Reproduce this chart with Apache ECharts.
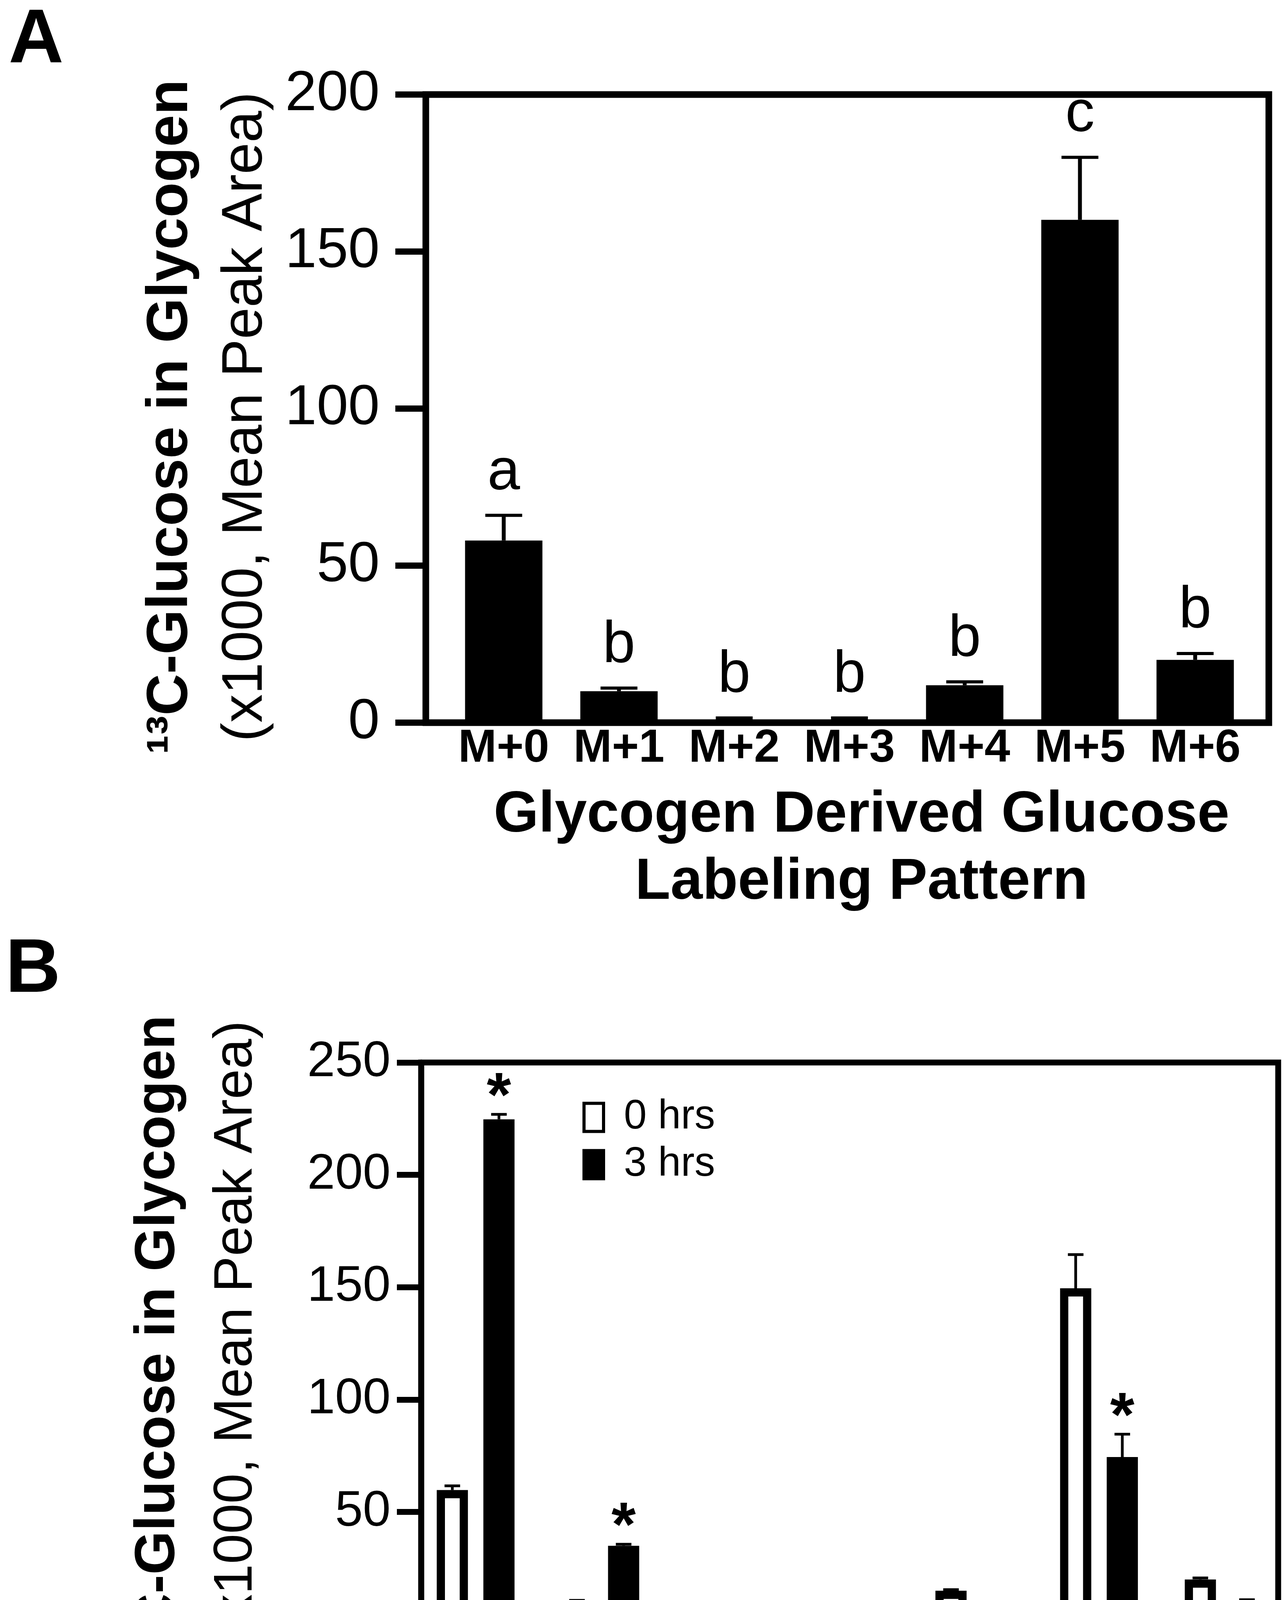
<!DOCTYPE html>
<html>
<head>
<meta charset="utf-8">
<script src="https://cdn.jsdelivr.net/npm/echarts@6/dist/echarts.min.js"></script>
<style>
  html, body { margin: 0; padding: 0; background: #fff; }
  #chart { width: 3292px; height: 4651px; }
</style>
</head>
<body>
<div id="chart"></div>
<script>
const categories = ['M+0', 'M+1', 'M+2', 'M+3', 'M+4', 'M+5', 'M+6'];

// panel A: mean and mean + SEM (x1000 peak area)
const meanA = [58.0, 10.0, 0.8, 0.8, 11.9, 160.1, 20.0];
const errTopA = [66.0, 11.0, 1.5, 1.5, 13.0, 180.0, 22.0];
const lettersA = ['a', 'b', 'b', 'b', 'b', 'c', 'b'];
const yTicksA = [0, 50, 100, 150, 200];

// panel B: 0 hrs vs 3 hrs
const mean0h = [59.7, 9.9, 0.5, 0, 14.9, 149.5, 19.9];
const errTop0h = [61.6, 10.6, 1.5, 0, 15.4, 164.5, 20.6];
const mean3h = [224.7, 34.9, 7.8, 0, 6.8, 74.4, 9.9];
const errTop3h = [226.9, 35.6, 8.3, 0, 7.6, 84.6, 10.9];
const starsB = ['*', '*', '', '', '', '*', ''];
const yTicksB = [0, 50, 100, 150, 200, 250];

const FONT = '"Liberation Sans", Arial, Helvetica, sans-serif';
const yTitle = '{b|\u00b9\u00b3C-Glucose in Glycogen}\n{r|(x1000, Mean Peak Area)}';
const xTitle = 'Glycogen Derived Glucose\nLabeling Pattern';

// grouped bars in panel B, as fractions of the category band
const B_SHIFT = 0.187;
const B_WIDTH = 0.25;

function barItemB(side, hollow) {
  return function (params, api) {
    const i = api.value(0), v = api.value(1);
    if (!(v > 0)) return;
    const band = api.size([1, 0])[0];
    const base = api.coord([i, 0]);
    const top = api.coord([i, v]);
    const w = band * B_WIDTH;
    const x = base[0] + side * band * B_SHIFT - w / 2;
    const children = [{
      type: 'rect',
      shape: { x: x, y: top[1], width: w, height: base[1] - top[1] },
      style: { fill: '#000' }
    }];
    if (hollow) {
      const t = 21;
      const innerH = base[1] - 8 - (top[1] + t);
      if (w > 2 * t && innerH > 0) {
        children.push({
          type: 'rect',
          shape: { x: x + t, y: top[1] + t, width: w - 2 * t, height: innerH },
          style: { fill: '#fff' }
        });
      }
    }
    return { type: 'group', children: children };
  };
}

// upper whisker only, with a cap
function errItem(shift, capW, stemW, capT) {
  return function (params, api) {
    const i = api.value(0), m = api.value(1), e = api.value(2);
    if (!(e > m)) return;
    const band = api.size([1, 0])[0];
    const p0 = api.coord([i, m]);
    const p1 = api.coord([i, e]);
    const cx = p0[0] + shift * band;
    const cw = capW * band;
    return {
      type: 'group',
      children: [
        { type: 'line', shape: { x1: cx, y1: p0[1], x2: cx, y2: p1[1] }, style: { stroke: '#000', lineWidth: stemW } },
        { type: 'line', shape: { x1: cx - cw / 2, y1: p1[1], x2: cx + cw / 2, y2: p1[1] }, style: { stroke: '#000', lineWidth: capT } }
      ]
    };
  };
}

// text marks (letters / asterisks) above the error caps
function noteItem(texts, shift, gap, fontSize, fontWeight) {
  return function (params, api) {
    const i = api.value(0);
    const s = texts[i];
    if (!s) return;
    const band = api.size([1, 0])[0];
    const p = api.coord([i, api.value(1)]);
    return {
      type: 'text',
      x: p[0] + shift * band,
      y: p[1] - gap,
      style: {
        text: s, fill: '#000', fontFamily: FONT, fontSize: fontSize, fontWeight: fontWeight,
        align: 'center', verticalAlign: 'bottom'
      }
    };
  };
}

function frameY(ticks, lw, tickLen, fontSize, margin, nameGap, lineH, namePad, bSize, rSize, rPad) {
  return {
    type: 'value',
    min: ticks[0],
    max: ticks[ticks.length - 1],
    interval: ticks[1] - ticks[0],
    axisLine: { show: true, lineStyle: { color: '#000', width: lw } },
    axisTick: { show: true, inside: false, length: tickLen, lineStyle: { color: '#000', width: lw } },
    splitLine: { show: false },
    axisLabel: { fontFamily: FONT, fontSize: fontSize, color: '#000', margin: margin },
    name: yTitle,
    nameLocation: 'middle',
    nameGap: nameGap,
    nameTextStyle: {
      padding: namePad,
      rich: {
        b: { fontFamily: FONT, fontSize: bSize, fontWeight: 'bold', color: '#000', lineHeight: lineH },
        r: { fontFamily: FONT, fontSize: rSize, color: '#000', lineHeight: lineH, padding: rPad }
      }
    }
  };
}

function hiddenY(ticks) {
  return { type: 'value', min: ticks[0], max: ticks[ticks.length - 1], show: false };
}

function catX(gridIndex, fontSize, margin, nameGap, lineH, namePad) {
  return {
    type: 'category',
    gridIndex: gridIndex,
    data: categories,
    axisLine: { show: false },
    axisTick: { show: false },
    axisLabel: { fontFamily: FONT, fontSize: fontSize, fontWeight: 'bold', color: '#000', margin: margin, interval: 0 },
    name: xTitle,
    nameLocation: 'middle',
    nameGap: nameGap,
    nameTextStyle: { fontFamily: FONT, fontSize: 148, fontWeight: 'bold', color: '#000', lineHeight: lineH, padding: namePad }
  };
}

const chart = echarts.init(document.getElementById('chart'), null, { renderer: 'canvas' });

const option = {
  animation: false,
  backgroundColor: '#fff',
  title: [
    { text: 'A', left: 22, top: 8, padding: 0, textStyle: { fontFamily: FONT, fontSize: 195, fontWeight: 'bold', color: '#000' } },
    { text: 'B', left: 14, top: 2388, padding: 0, textStyle: { fontFamily: FONT, fontSize: 195, fontWeight: 'bold', color: '#000' } }
  ],
  legend: {
    orient: 'vertical',
    left: 1486,
    top: 2803,
    itemWidth: 50,
    itemHeight: 72,
    itemGap: 16,
    selectedMode: false,
    textStyle: { fontFamily: FONT, fontSize: 105, color: '#000', padding: [0, 0, 0, 47] },
    data: [
      { name: '0 hrs', icon: 'rect', itemStyle: { color: '#fff', borderColor: '#000', borderWidth: 8 } },
      { name: '3 hrs', icon: 'rect', itemStyle: { color: '#000', borderColor: '#000', borderWidth: 8 } }
    ]
  },
  grid: [
    // A frame, A bars, B frame, B bars
    { left: 1090, top: 242, width: 2158, height: 1608, show: true, borderColor: '#000', borderWidth: 17, backgroundColor: 'transparent' },
    { left: 1142, top: 242, width: 2065, height: 1608 },
    { left: 1078, top: 2720, width: 2194, height: 1438, show: true, borderColor: '#000', borderWidth: 15, backgroundColor: 'transparent' },
    { left: 1058, top: 2720, width: 2245, height: 1438 }
  ],
  xAxis: [
    { type: 'value', gridIndex: 0, min: 0, max: 1, show: false },
    catX(1, 118, 8, 152, 172, [0, 0, 0, 62]),
    { type: 'value', gridIndex: 2, min: 0, max: 1, show: false },
    catX(3, 118, 6, 148, 160, [0, 58, 0, 0])
  ],
  yAxis: [
    Object.assign(frameY(yTicksA, 16, 78, 145, 118, 365, 191, [0, 42, 0, 0], 148, 146, 0), { gridIndex: 0 }),
    Object.assign(hiddenY(yTicksA), { gridIndex: 1 }),
    Object.assign(frameY(yTicksB, 15, 62, 128, 78, 373, 199, 0, 144, 139, [0, 0, 0, 68]), { gridIndex: 2 }),
    Object.assign(hiddenY(yTicksB), { gridIndex: 3 })
  ],
  series: [
    {
      name: 'A',
      type: 'bar',
      xAxisIndex: 1,
      yAxisIndex: 1,
      barWidth: 198,
      itemStyle: { color: '#000' },
      data: meanA
    },
    {
      type: 'custom',
      xAxisIndex: 1,
      yAxisIndex: 1,
      renderItem: errItem(0, 0.32, 10, 8),
      data: meanA.map((v, i) => [i, v, errTopA[i]]),
      z: 3
    },
    {
      type: 'custom',
      xAxisIndex: 1,
      yAxisIndex: 1,
      renderItem: noteItem(lettersA, 0, 33, 150, 'normal'),
      data: errTopA.map((v, i) => [i, v]),
      silent: true,
      z: 4
    },
    {
      name: '0 hrs',
      type: 'custom',
      xAxisIndex: 3,
      yAxisIndex: 3,
      renderItem: barItemB(-1, true),
      itemStyle: { color: '#fff', borderColor: '#000' },
      data: mean0h.map((v, i) => [i, v])
    },
    {
      name: '3 hrs',
      type: 'custom',
      xAxisIndex: 3,
      yAxisIndex: 3,
      renderItem: barItemB(1, false),
      itemStyle: { color: '#000' },
      data: mean3h.map((v, i) => [i, v])
    },
    {
      type: 'custom',
      xAxisIndex: 3,
      yAxisIndex: 3,
      renderItem: errItem(-B_SHIFT, 0.125, 7, 7),
      data: mean0h.map((v, i) => [i, v, errTop0h[i]]),
      z: 3
    },
    {
      type: 'custom',
      xAxisIndex: 3,
      yAxisIndex: 3,
      renderItem: errItem(B_SHIFT, 0.125, 7, 7),
      data: mean3h.map((v, i) => [i, v, errTop3h[i]]),
      z: 3
    },
    {
      type: 'custom',
      xAxisIndex: 3,
      yAxisIndex: 3,
      renderItem: noteItem(starsB, B_SHIFT, -40, 160, 'bold'),
      data: errTop3h.map((v, i) => [i, v]),
      silent: true,
      z: 4
    }
  ]
};

chart.setOption(option);
</script>
</body>
</html>
